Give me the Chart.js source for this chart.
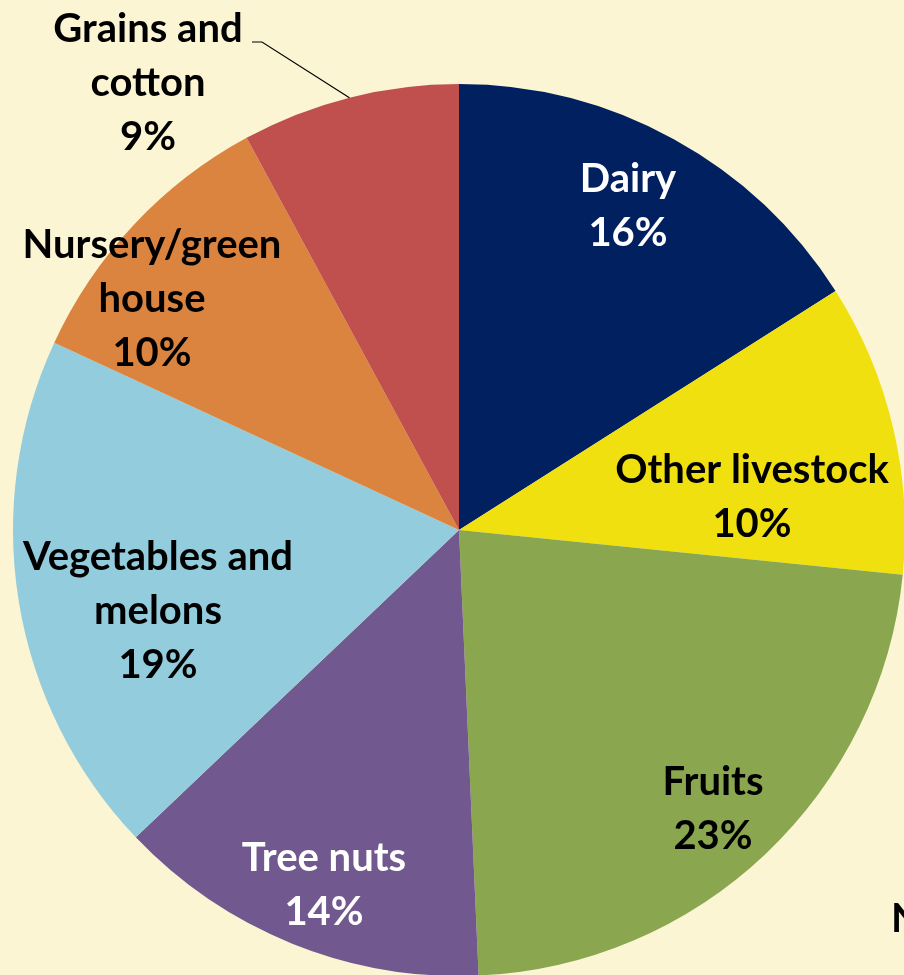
<!DOCTYPE html>
<html>
<head>
<meta charset="utf-8">
<script src="https://cdn.jsdelivr.net/npm/chart.js@4.4.1/dist/chart.umd.min.js"></script>
<style>
  html,body{margin:0;padding:0;background:#FBF5D3;overflow:hidden;width:904px;height:975px;}
  #wrap{position:absolute;left:0;top:0;width:920px;height:1000px;}
</style>
</head>
<body>
<div id="wrap"><canvas id="pie" width="920" height="1000"></canvas></div>
<script>
'use strict';
// slice order clockwise from 12 o'clock
const categories=['Dairy','Other livestock','Fruits','Tree nuts','Vegetables and melons','Nursery/greenhouse','Grains and cotton'];
const shares=[16.0,10.6,22.7,13.6,19.0,10.2,7.9];
const shareLabels=['16%','10%','23%','14%','19%','10%','9%'];
const labelLines=[['Dairy'],['Other livestock'],['Fruits'],['Tree nuts'],['Vegetables and','melons'],['Nursery/green','house'],['Grains and','cotton']];

const colors=['#002060','#F0E010','#8AA64E','#71598F','#93CDDD','#DB843F','#C0504E'];
const textColors=['#fff','#000','#000','#fff','#000','#000','#000'];
// label block offsets from pie centre (first-line baseline)
const labelOffsets=[[169,-338],[293,-47],[254,265],[-135,341],[-301,40],[-307,-272],[-311,-488]];
const LINE=54;
const FONT='bold 40px Lato, "Open Sans", sans-serif';

const labelPlugin={
  id:'sliceLabels',
  afterDatasetsDraw(chart){
    const {ctx}=chart;
    const arcs=chart.getDatasetMeta(0).data;
    const cx=arcs[0].x,cy=arcs[0].y;
    ctx.save();
    ctx.font=FONT;
    ctx.textAlign='center';
    ctx.textBaseline='alphabetic';
    labelLines.forEach((lines,i)=>{
      const [dx,dy]=labelOffsets[i];
      ctx.fillStyle=textColors[i];
      [...lines,shareLabels[i]].forEach((t,k)=>ctx.fillText(t,cx+dx,cy+dy+k*LINE));
    });
    // leader for the small slice, to the middle of its arc
    const g=arcs[6];
    const mid=(g.startAngle+g.endAngle)/2;
    const ex=cx+Math.cos(mid)*g.outerRadius, ey=cy+Math.sin(mid)*g.outerRadius;
    ctx.strokeStyle='#000';ctx.lineWidth=1.2;
    ctx.beginPath();
    ctx.moveTo(cx-207,cy-488);ctx.lineTo(cx-197,cy-488);ctx.lineTo(ex,ey);
    ctx.stroke();
    // clipped note text at right edge
    ctx.fillStyle='#000';ctx.textAlign='left';
    ctx.fillText('N',cx+432,cy+402);
    ctx.restore();
  }
};

new Chart(document.getElementById('pie'),{
  type:'pie',
  data:{
    labels:categories,
    datasets:[{data:shares,backgroundColor:colors,borderWidth:0,hoverOffset:0,offset:0}]
  },
  options:{
    responsive:false,
    animation:false,
    rotation:0,
    layout:{padding:{left:13,top:84,right:15,bottom:24}},
    plugins:{legend:{display:false},tooltip:{enabled:false}}
  },
  plugins:[labelPlugin]
});
</script>
</body>
</html>
